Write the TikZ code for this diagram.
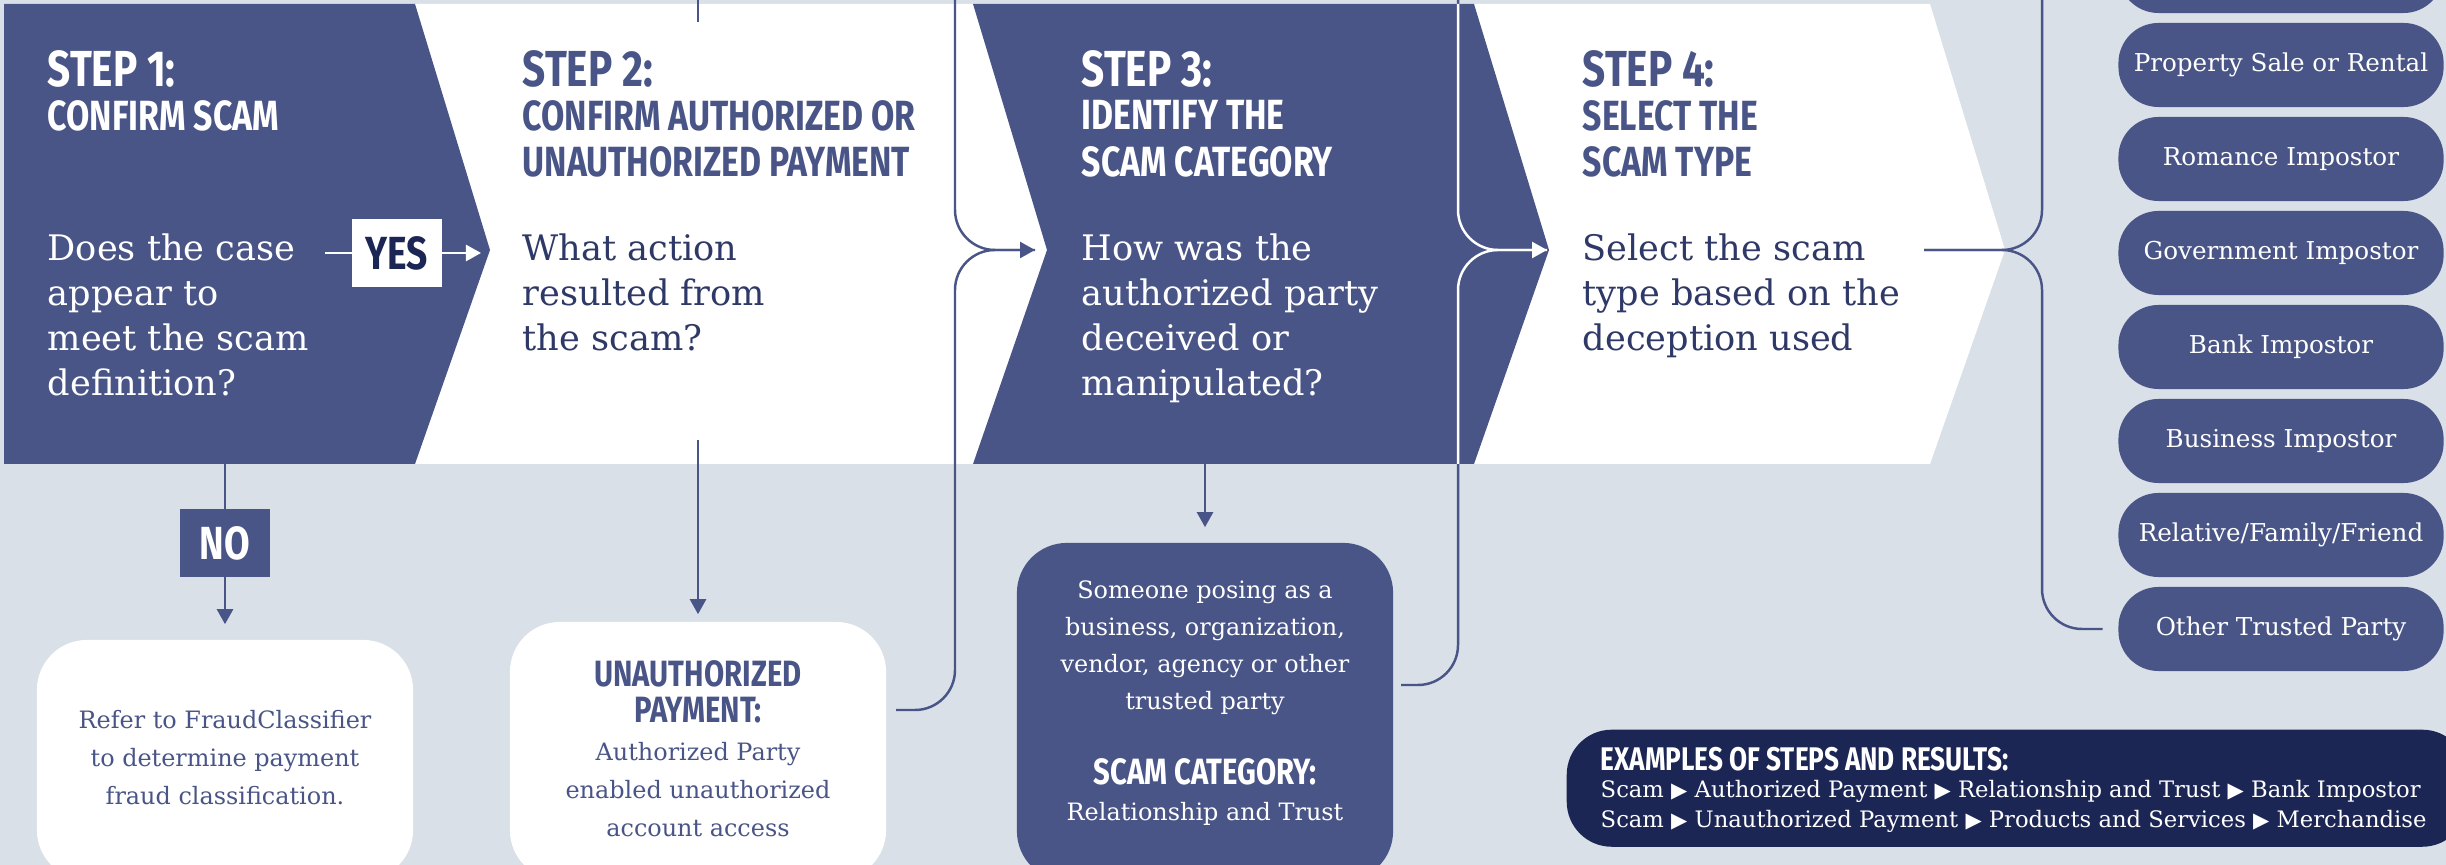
\documentclass[tikz,border=0pt]{standalone}
\usepackage{fontspec}
\setmainfont{DejaVu Serif}
\newfontfamily\headfont[FakeStretch=0.8]{Fira Sans}
\newfontfamily\symfont{DejaVu Sans}
\usetikzlibrary{arrows.meta,positioning}

\definecolor{pageback}{HTML}{D9E0E8}
\definecolor{stepblue}{HTML}{4A5587}
\definecolor{deepnavy}{HTML}{1C2654}
\definecolor{inkblue}{HTML}{2F3967}

\newcommand{\tri}{{\symfont\fontsize{6}{6}\selectfont ▶}}

\tikzset{
  flow/.style={draw=stepblue, line width=0.7pt, rounded corners=0.4cm},
  arr/.style={-{Triangle[length=0.15cm,width=0.16cm]}},
  stepnum/.style={anchor=north west, inner sep=0pt, font=\headfont\bfseries\fontsize{14.4}{16}\selectfont},
  steptitle/.style={anchor=north west, inner sep=0pt, align=left, font=\headfont\bfseries\fontsize{12}{13.1}\selectfont},
  stepq/.style={anchor=north west, inner sep=0pt, align=left, font=\fontsize{10}{12.8}\selectfont},
  answer/.style={minimum width=0.89cm, minimum height=0.67cm, inner sep=0pt, font=\headfont\bfseries\fontsize{13.2}{15}\selectfont},
  resultbox/.style={rounded corners=0.5cm, minimum width=3.76cm, inner sep=0pt},
  boxtext/.style={anchor=north, inner sep=0pt, align=center, font=\fontsize{6.8}{10.8}\selectfont},
  boxhead/.style={anchor=north, inner sep=0pt, align=center, font=\headfont\bfseries\fontsize{10.4}{10.2}\selectfont},
  typepill/.style={fill=stepblue, text=white, rounded corners=0.4cm, minimum width=3.25cm, minimum height=0.84cm, inner sep=0pt, font=\fontsize{7}{8}\selectfont},
}

\begin{document}
\begin{tikzpicture}[x=0.01cm, y=-0.01cm]
  %Background
  \fill[pageback] (0,0) rectangle (2446,865);
  \useasboundingbox (0,0) rectangle (2446,865);
  %Step panels
  \fill[white] (4,4) -- (1930,4) -- (2005,250) -- (1930,464) -- (4,464) -- cycle;
  \fill[stepblue] (4,4) -- (415,4) -- (490,250) -- (415,464) -- (4,464) -- cycle;
  \fill[stepblue] (973,4) -- (1474,4) -- (1549,250) -- (1474,464) -- (973,464) -- (1047,250) -- cycle;

  %Step texts
  \node[stepnum, text=white] (s1num) at (47,50) {STEP 1:};
  \node[steptitle, text=white] (s1title) at (47,100) {CONFIRM SCAM};
  \node[stepq, text=white] (s1q) at (47,233) {Does the case\\appear to\\meet the scam\\definition?};

  \node[stepnum, text=stepblue] (s2num) at (522,50) {STEP 2:};
  \node[steptitle, text=stepblue] (s2title) at (522,100) {CONFIRM AUTHORIZED OR\\UNAUTHORIZED PAYMENT};
  \node[stepq, text=inkblue] (s2q) at (522,233) {What action\\resulted from\\the scam?};

  \node[stepnum, text=white] (s3num) at (1081,50) {STEP 3:};
  \node[steptitle, text=white] (s3title) at (1081,100) {IDENTIFY THE\\SCAM CATEGORY};
  \node[stepq, text=white] (s3q) at (1081,233) {How was the\\authorized party\\deceived or\\manipulated?};

  \node[stepnum, text=stepblue] (s4num) at (1582,50) {STEP 4:};
  \node[steptitle, text=stepblue] (s4title) at (1582,100) {SELECT THE\\SCAM TYPE};
  \node[stepq, text=inkblue] (s4q) at (1582,233) {Select the scam\\type based on the\\deception used};

  %Answers
  \node[answer, fill=white, text=deepnavy] (yes) at (397,253) {YES};
  \node[answer, fill=stepblue, text=white] (no) at (225,543) {NO};

  %Result boxes
  \node[resultbox, fill=white, minimum height=2.4cm] (refer) at (225,760) {};
  \node[boxtext, text=stepblue] (refertxt) at (225,710) {Refer to FraudClassifier\\to determine payment\\fraud classification.};

  \node[resultbox, fill=white, minimum height=2.58cm] (unauth) at (698,751) {};
  \node[boxhead, text=stepblue] (unauthhead) at (698,660) {UNAUTHORIZED\\PAYMENT:};
  \node[boxtext, text=stepblue] (unauthtxt) at (698,742) {Authorized Party\\enabled unauthorized\\account access};

  \node[resultbox, fill=stepblue, minimum height=3.38cm] (posing) at (1205,712) {};
  \node[boxtext, text=white, font=\fontsize{6.8}{10.5}\selectfont] (posingtxt) at (1205,580) {Someone posing as a\\business, organization,\\vendor, agency or other\\trusted party};
  \node[boxhead, text=white] (posinghead) at (1205,758) {SCAM CATEGORY:};
  \node[boxtext, text=white] (posingcat) at (1205,802) {Relationship and Trust};

  %Scam types
  \foreach \name/\lbl [count=\i from 0] in {toppill/{}, sale/{Property Sale or Rental}, romance/{Romance Impostor}, gov/{Government Impostor}, bank/{Bank Impostor}, business/{Business Impostor}, relative/{Relative/Family/Friend}, other/{Other Trusted Party}}
    \node[typepill] (\name) at (2281,{-29+94*\i}) {\lbl};

  %Connector ends
  \coordinate (yesfrom) at (325,253);
  \coordinate (s2tip) at (481,253);
  \coordinate (s1out) at (225,464);
  \coordinate (s2stub) at (698,0);
  \coordinate (s2stubend) at (698,22);
  \coordinate (s2out) at (698,440);
  \coordinate (s3top) at (955,0);
  \coordinate (s3bend) at (955,250);
  \coordinate (s3in) at (1035,250);
  \coordinate (u2out) at (896,710);
  \coordinate (s3out) at (1205,464);
  \coordinate (s4top) at (1458,0);
  \coordinate (s4bend) at (1458,250);
  \coordinate (s4in) at (1547,250);
  \coordinate (p3out) at (1401,685);
  \coordinate (s4out) at (1924,250);
  \coordinate (typetop) at (2042,0);
  \coordinate (typebend) at (2042,250);

  %Connectors
  \draw[flow, draw=white] (yesfrom) -- (yes);
  \draw[flow, draw=white, arr] (yes) -- (s2tip);
  \draw[flow] (s1out) -- (no);
  \draw[flow, arr, shorten >=0.15cm] (no) -- (refer);
  \draw[flow] (s2stub) -- (s2stubend);
  \draw[flow, arr, shorten >=0.07cm] (s2out) -- (unauth);
  \draw[flow] (s3top) |- (s3in);
  \draw[flow, arr] (u2out) -| (s3bend) -- (s3in);
  \draw[flow, arr, shorten >=0.15cm] (s3out) -- (posing);
  \draw[flow] (s4top) |- (s4in);
  \draw[flow, arr] (p3out) -| (s4bend) -- (s4in);
  \begin{scope}
    \clip (973,4) -- (1474,4) -- (1549,250) -- (1474,464) -- (973,464) -- (1047,250) -- cycle;
    \draw[flow, draw=white] (s4top) |- (s4in);
    \draw[flow, draw=white, arr] (p3out) -| (s4bend) -- (s4in);
  \end{scope}
  \draw[flow] (s4out) -| (typetop);
  \draw[flow] (s4out) -- (typebend) |- ([xshift=-0.15cm]other.west);

  %Examples
  \node[fill=deepnavy, rounded corners=0.45cm, minimum width=9cm, minimum height=1.17cm, anchor=north west, inner sep=0pt] (examples) at (1566,729) {};
  \node[anchor=north west, inner sep=0pt, text=white, font=\headfont\bfseries\fontsize{9.3}{10}\selectfont] (exhead) at (1600,747) {EXAMPLES OF STEPS AND RESULTS:};
  \node[anchor=north west, inner sep=0pt, text=white, align=left, font=\fontsize{6.45}{8.5}\selectfont] (exlines) at (1600,780) {Scam \tri{} Authorized Payment \tri{} Relationship and Trust \tri{} Bank Impostor\\Scam \tri{} Unauthorized Payment \tri{} Products and Services \tri{} Merchandise};
\end{tikzpicture}
\end{document}
